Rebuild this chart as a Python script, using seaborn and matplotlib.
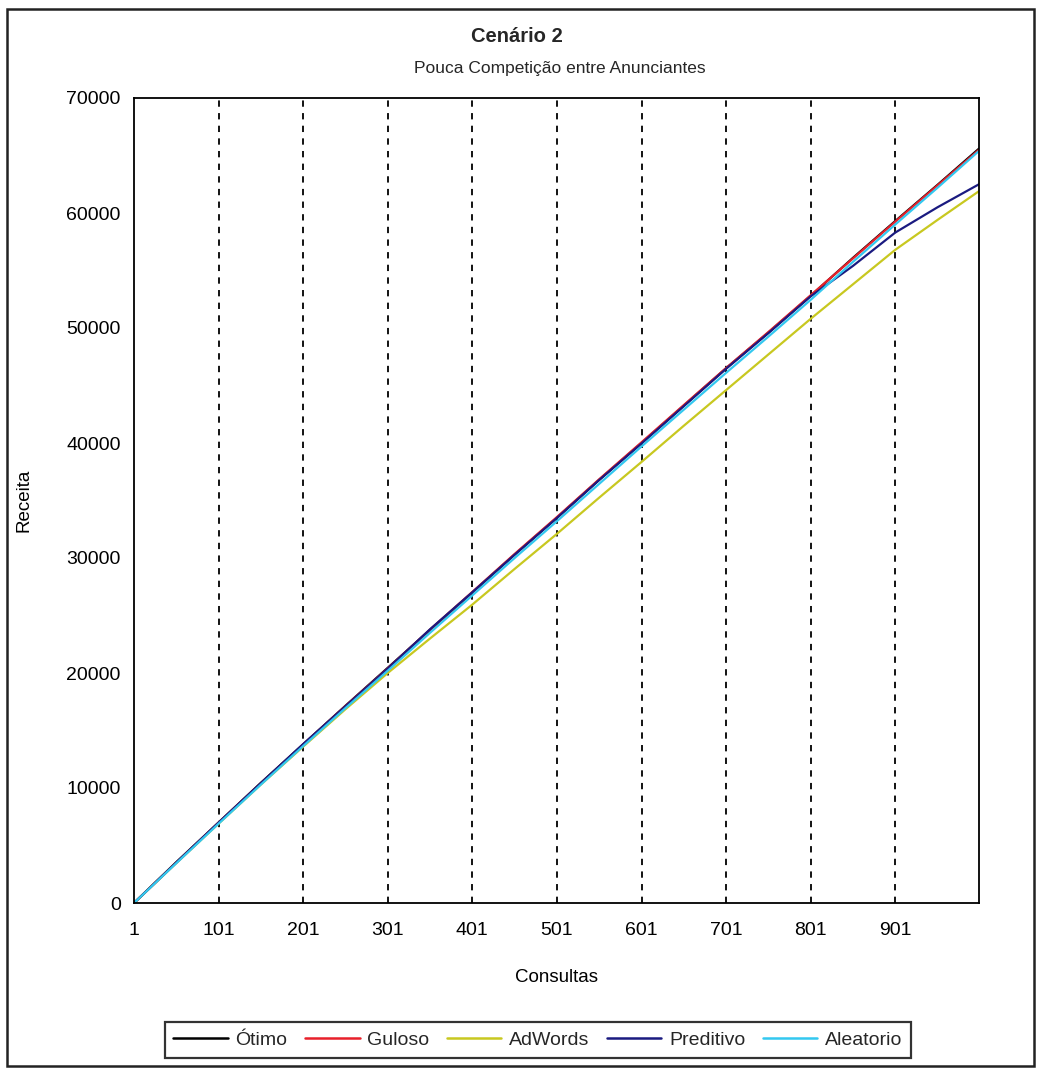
import numpy as np
import pandas as pd
import matplotlib
matplotlib.use("Agg")
import matplotlib.pyplot as plt
import seaborn as sns
from matplotlib.patches import Rectangle
from matplotlib.lines import Line2D

# Query index (Consultas) sampled every 50 queries
consultas = [1, 51, 101, 151, 201, 251, 301, 351, 401, 451, 501,
             551, 601, 651, 701, 751, 801, 851, 901, 951, 1000]

# Cumulative revenue (Receita) per strategy
otimo = [0, 3550, 7000, 10450, 13800, 17150, 20450, 23750, 27000, 30300, 33500,
         36800, 40000, 43250, 46500, 49600, 52800, 56100, 59300, 62450, 65600]
guloso = [0, 3500, 6980, 10400, 13780, 17120, 20400, 23780, 27050, 30350, 33560,
          36850, 40060, 43300, 46520, 49650, 52850, 56050, 59250, 62400, 65500]
adwords = [0, 3480, 6900, 10300, 13600, 16850, 20000, 23000, 25950, 29050, 32100,
           35250, 38350, 41500, 44600, 47700, 50800, 53800, 56800, 59400, 61900]
preditivo = [0, 3520, 6990, 10420, 13820, 17100, 20380, 23800, 27020, 30280, 33480,
             36780, 39950, 43200, 46450, 49550, 52750, 55400, 58300, 60500, 62500]
aleatorio = [0, 3460, 6900, 10300, 13650, 16950, 20200, 23500, 26750, 30000, 33200,
             36450, 39700, 42900, 46100, 49250, 52450, 55750, 59000, 62200, 65400]

series_names = ["Ótimo", "Guloso", "AdWords", "Preditivo", "Aleatorio"]
series_values = [otimo, guloso, adwords, preditivo, aleatorio]
colors = ["#000000", "#E8202A", "#C8C820", "#1A1A80", "#33C8F0"]

x_ticks = [1, 101, 201, 301, 401, 501, 601, 701, 801, 901]
x_tick_labels = [str(t) for t in x_ticks]
y_ticks = [0, 10000, 20000, 30000, 40000, 50000, 60000, 70000]

frames = []
for name, vals in zip(series_names, series_values):
    frames.append(pd.DataFrame({"Consultas": consultas, "Receita": vals, "Estratégia": name}))
df = pd.concat(frames, ignore_index=True)

sns.set_style("white")
plt.rcParams["font.family"] = ["Liberation Sans", "DejaVu Sans"]

W, H = 1040, 1068
fig = plt.figure(figsize=(W / 100, H / 100), dpi=100)
ax = fig.add_axes([134 / W, 1 - 903 / H, (979 - 134) / W, (903 - 98) / H])

palette = dict(zip(series_names, colors))
sns.lineplot(data=df, x="Consultas", y="Receita", hue="Estratégia",
             hue_order=series_names, palette=palette, sort=False,
             linewidth=1.6, ax=ax, legend=False)

ax.set_xlim(1, 1000)
ax.set_ylim(0, 70000)
ax.set_xticks(x_ticks)
ax.set_xticklabels(x_tick_labels)
ax.set_yticks(y_ticks)
ax.set_yticklabels([str(t) for t in y_ticks])
ax.tick_params(axis="both", labelsize=14, direction="inout", length=7, width=1.2,
               color="black", labelcolor="black")
ax.tick_params(axis="x", pad=10)
ax.tick_params(axis="y", pad=6)

# Vertical dashed gridlines
ax.grid(False)
for t in x_ticks[1:]:
    ax.axvline(t, color="black", linestyle=(0, (3.5, 3.5)), linewidth=1.3, zorder=0)

for s in ax.spines.values():
    s.set_visible(True)
    s.set_color("black")
    s.set_linewidth(1.3)

ax.set_xlabel("Consultas", fontsize=13.5, labelpad=22, color="black")
ax.set_ylabel("Receita", fontsize=13.5, labelpad=24, color="black")

fig.text(517 / W, 1 - 37 / H, "Cenário 2", ha="center", va="center",
         fontsize=14.5, fontweight="bold")
fig.text(560 / W, 1 - 68 / H, "Pouca Competição entre Anunciantes", ha="center",
         va="center", fontsize=12.5)

handles = [Line2D([0], [0], color=c, lw=1.8) for c in colors]
leg = fig.legend(handles, series_names, loc="center", ncol=5,
                 bbox_to_anchor=(538 / W, 1 - 1040 / H), fontsize=14,
                 frameon=True, fancybox=False, edgecolor="black",
                 handlelength=2.8, handletextpad=0.4, columnspacing=0.9,
                 borderpad=0.45)
leg.get_frame().set_linewidth(1.6)

# Outer chart border
fig.patches.append(Rectangle((7 / W, 1 - 1066 / H), (1034 - 7) / W, (1066 - 9) / H,
                             transform=fig.transFigure, fill=False,
                             edgecolor="#222222", linewidth=1.8))

fig.savefig("out.png", dpi=100)
